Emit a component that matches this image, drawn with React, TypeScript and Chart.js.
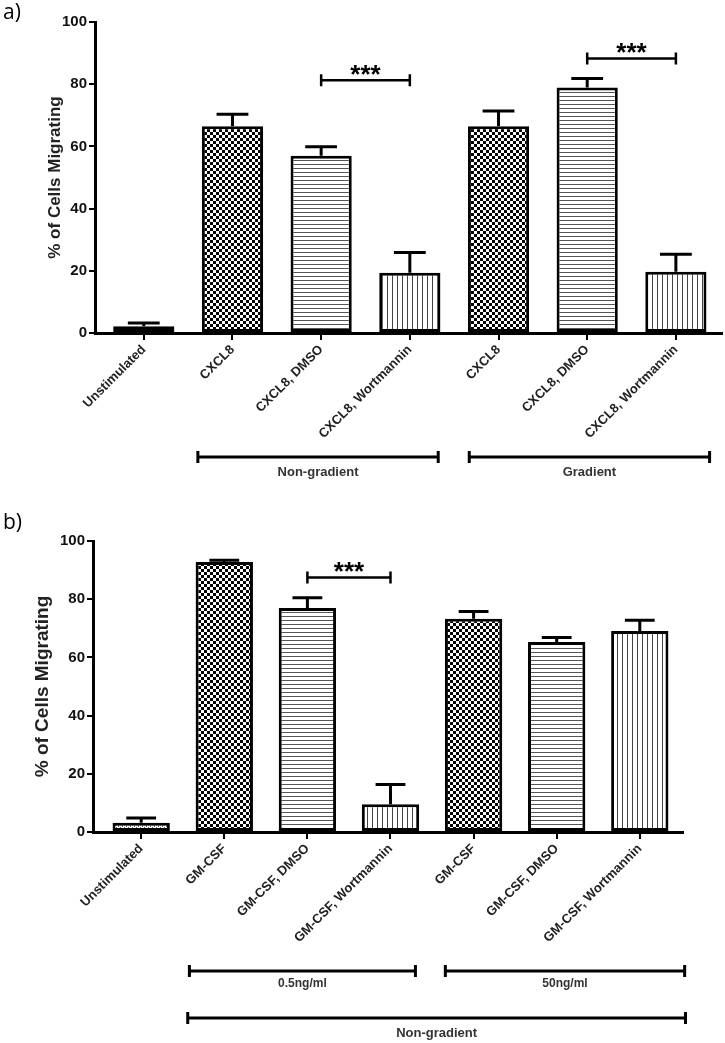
import { useEffect, useRef } from 'react'
import { Chart, registerables } from 'chart.js'

Chart.register(...registerables)

const FONT = '"Liberation Sans", Arial, sans-serif'

// panel a: CXCL8
const cxclLabels = ['Unstimulated', 'CXCL8', 'CXCL8, DMSO', 'CXCL8, Wortmannin', 'CXCL8', 'CXCL8, DMSO', 'CXCL8, Wortmannin']
const cxclMeans = [2.2, 66.5, 57.0, 19.4, 66.5, 78.9, 19.7]
const cxclErrors = [1.0, 3.8, 2.9, 6.5, 4.9, 2.9, 5.6]
const cxclSig = [
  { from: 2, to: 3, level: 81.3, text: '***' },
  { from: 5, to: 6, level: 88.3, text: '***' },
]
const cxclGroups = [
  { label: 'Non-gradient', from: 0.61, to: 3.32, row: 0 },
  { label: 'Gradient', from: 3.67, to: 6.38, row: 0 },
]

// panel b: GM-CSF
const gmLabels = ['Unstimulated', 'GM-CSF', 'GM-CSF, DMSO', 'GM-CSF, Wortmannin', 'GM-CSF', 'GM-CSF, DMSO', 'GM-CSF, Wortmannin']
const gmMeans = [3.2, 92.8, 77.0, 9.5, 73.3, 65.3, 69.1]
const gmErrors = [1.6, 0.6, 3.5, 6.8, 2.5, 1.5, 3.7]
const gmSig = [{ from: 2, to: 3, level: 87.5, text: '***' }]
const gmGroups = [
  { label: '0.5ng/ml', from: 0.58, to: 3.3, row: 0 },
  { label: '50ng/ml', from: 3.66, to: 6.54, row: 0 },
  { label: 'Non-gradient', from: 0.56, to: 6.55, row: 1 },
]

const fillKinds = ['fine', 'check', 'hlines', 'vlines', 'check', 'hlines', 'vlines']
const yTicks = [0, 20, 40, 60, 80, 100]

function makePattern(kind: string, ctx: CanvasRenderingContext2D) {
  const c = document.createElement('canvas')
  const g = c.getContext('2d')!
  if (kind === 'check') {
    c.width = 6
    c.height = 6
    g.fillStyle = '#fff'
    g.fillRect(0, 0, 6, 6)
    g.fillStyle = '#000'
    g.fillRect(0, 0, 3, 3)
    g.fillRect(3, 3, 3, 3)
  } else if (kind === 'hlines') {
    c.width = 4
    c.height = 4
    g.fillStyle = '#fff'
    g.fillRect(0, 0, 4, 4)
    g.fillStyle = '#555'
    g.fillRect(0, 0, 4, 1)
  } else if (kind === 'vlines') {
    c.width = 5
    c.height = 4
    g.fillStyle = '#fff'
    g.fillRect(0, 0, 5, 4)
    g.fillStyle = '#444'
    g.fillRect(2, 0, 1, 4)
  } else {
    // fine dotted texture for the unstimulated bar
    c.width = 4
    c.height = 3
    g.fillStyle = '#fff'
    g.fillRect(0, 0, 4, 3)
    g.fillStyle = '#666'
    g.fillRect(0, 0, 1, 2)
    g.fillRect(2, 1, 1, 2)
  }
  return ctx.createPattern(c, 'repeat')!
}

interface PanelProps {
  top: number
  height: number
  letter: string
  letterY: number
  labels: string[]
  means: number[]
  errors: number[]
  sig: { from: number; to: number; level: number; text: string }[]
  groups: { label: string; from: number; to: number; row: number }[]
  xMin: number
  xMax: number
  padTop: number
  padRight: number
  yWidth: number
  xHeight: number
  titleX: number
  titleFont: number
  groupRows: { line: number; text: number; font: number }[]
}

function BarPanel(p: PanelProps) {
  const chartRef = useRef<HTMLCanvasElement>(null)

  useEffect(() => {
    if (!chartRef.current) return
    const ctx = chartRef.current.getContext('2d')
    if (!ctx) return

    const annotate = {
      id: 'annotate',
      afterDraw(chart: any) {
        const c = chart.ctx as CanvasRenderingContext2D
        const xs = chart.scales.x
        const ys = chart.scales.y
        const meta = chart.getDatasetMeta(0)
        c.save()
        c.strokeStyle = '#000'
        c.fillStyle = '#000'
        c.lineCap = 'butt'

        // error bars (upper half only)
        c.lineWidth = 3
        meta.data.forEach((bar: any, i: number) => {
          const yTop = ys.getPixelForValue(p.means[i])
          const yErr = ys.getPixelForValue(p.means[i] + p.errors[i])
          const half = bar.width * 0.26
          c.beginPath()
          c.moveTo(bar.x, yTop)
          c.lineTo(bar.x, yErr)
          c.moveTo(bar.x - half, yErr)
          c.lineTo(bar.x + half, yErr)
          c.stroke()
        })

        // significance brackets
        p.sig.forEach((s) => {
          const x1 = xs.getPixelForValue(s.from)
          const x2 = xs.getPixelForValue(s.to)
          const y = ys.getPixelForValue(s.level)
          c.lineWidth = 2.5
          c.beginPath()
          c.moveTo(x1, y)
          c.lineTo(x2, y)
          c.moveTo(x1, y - 6)
          c.lineTo(x1, y + 6)
          c.moveTo(x2, y - 6)
          c.lineTo(x2, y + 6)
          c.stroke()
          c.font = `bold 26px ${FONT}`
          c.textAlign = 'center'
          c.textBaseline = 'alphabetic'
          c.fillText(s.text, (x1 + x2) / 2, y + 3)
        })

        // group brackets under the axis
        p.groups.forEach((g) => {
          const row = p.groupRows[g.row]
          const x1 = xs.getPixelForValue(g.from)
          const x2 = xs.getPixelForValue(g.to)
          c.lineWidth = 3
          c.strokeStyle = '#000'
          c.beginPath()
          c.moveTo(x1, row.line)
          c.lineTo(x2, row.line)
          c.moveTo(x1, row.line - 6)
          c.lineTo(x1, row.line + 6)
          c.moveTo(x2, row.line - 6)
          c.lineTo(x2, row.line + 6)
          c.stroke()
          c.font = `bold ${row.font}px ${FONT}`
          c.fillStyle = '#333'
          c.textAlign = 'center'
          c.textBaseline = 'middle'
          c.fillText(g.label, (x1 + x2) / 2, row.text)
        })

        // y axis title
        const area = chart.chartArea
        c.save()
        c.translate(p.titleX, (area.top + area.bottom) / 2)
        c.rotate(-Math.PI / 2)
        c.font = `bold ${p.titleFont}px ${FONT}`
        c.fillStyle = '#222'
        c.textAlign = 'center'
        c.textBaseline = 'middle'
        c.fillText('% of Cells Migrating', 0, 0)
        c.restore()

        // panel letter
        c.font = `21px "Open Sans", ${FONT}`
        c.fillStyle = '#000'
        c.textAlign = 'left'
        c.textBaseline = 'middle'
        c.fillText(p.letter, 3, p.letterY)
        c.restore()
      },
    }

    const chart = new Chart(ctx, {
      type: 'bar',
      data: {
        datasets: [
          {
            data: p.means.map((v, i) => ({ x: i, y: v })),
            backgroundColor: fillKinds.map((k) => makePattern(k, ctx)),
            borderColor: '#000',
            borderWidth: 3,
            borderSkipped: false,
            barPercentage: 0.69,
            categoryPercentage: 1,
          },
        ],
      },
      options: {
        animation: false,
        responsive: true,
        maintainAspectRatio: false,
        layout: { padding: { top: p.padTop, right: p.padRight, left: 0, bottom: 0 } },
        plugins: {
          legend: { display: false },
          tooltip: { enabled: false },
        },
        scales: {
          x: {
            type: 'linear',
            offset: false,
            min: p.xMin,
            max: p.xMax,
            afterBuildTicks: (s: any) => {
              s.ticks = p.labels.map((_, i) => ({ value: i }))
            },
            afterFit: (s: any) => {
              s.height = p.xHeight
              s.paddingLeft = 0
              s.paddingRight = 0
            },
            ticks: {
              callback: (v: any) => p.labels[v],
              minRotation: 45,
              maxRotation: 45,
              autoSkip: false,
              padding: 2,
              color: '#222',
              font: { family: FONT, size: 13, weight: 'bold' },
            },
            grid: { offset: false, drawOnChartArea: false, color: '#000', lineWidth: 2, tickLength: 7 },
            border: { color: '#000', width: 3 },
          },
          y: {
            min: 0,
            max: 100,
            afterBuildTicks: (s: any) => {
              s.ticks = yTicks.map((v) => ({ value: v }))
            },
            afterFit: (s: any) => {
              s.width = p.yWidth
            },
            ticks: {
              padding: 2,
              color: '#111',
              font: { family: FONT, size: 15, weight: 'bold' },
            },
            grid: { drawOnChartArea: false, color: '#000', lineWidth: 2, tickLength: 6 },
            border: { color: '#000', width: 3 },
          },
        },
      },
      plugins: [annotate],
    } as any)

    return () => {
      chart.destroy()
    }
  }, [])

  return (
    <div style={{ position: 'absolute', left: 0, top: p.top, width: 725, height: p.height }}>
      <canvas ref={chartRef} />
    </div>
  )
}

export default function App() {
  return (
    <div style={{ position: 'absolute', left: 0, top: 0, width: 725, height: 1043, background: '#fff' }}>
      <BarPanel
        top={0}
        height={500}
        letter="a)"
        letterY={13}
        labels={cxclLabels}
        means={cxclMeans}
        errors={cxclErrors}
        sig={cxclSig}
        groups={cxclGroups}
        xMin={-0.55}
        xMax={6.52}
        padTop={22}
        padRight={3}
        yWidth={95}
        xHeight={167}
        titleX={55}
        titleFont={17}
        groupRows={[{ line: 457, text: 472, font: 13 }]}
      />
      <BarPanel
        top={500}
        height={543}
        letter="b)"
        letterY={23}
        labels={gmLabels}
        means={gmMeans}
        errors={gmErrors}
        sig={gmSig}
        groups={gmGroups}
        xMin={-0.58}
        xMax={6.52}
        padTop={41}
        padRight={42}
        yWidth={93}
        xHeight={211}
        titleX={43}
        titleFont={19}
        groupRows={[
          { line: 471, text: 484, font: 12 },
          { line: 518, text: 533, font: 13 },
        ]}
      />
    </div>
  )
}
